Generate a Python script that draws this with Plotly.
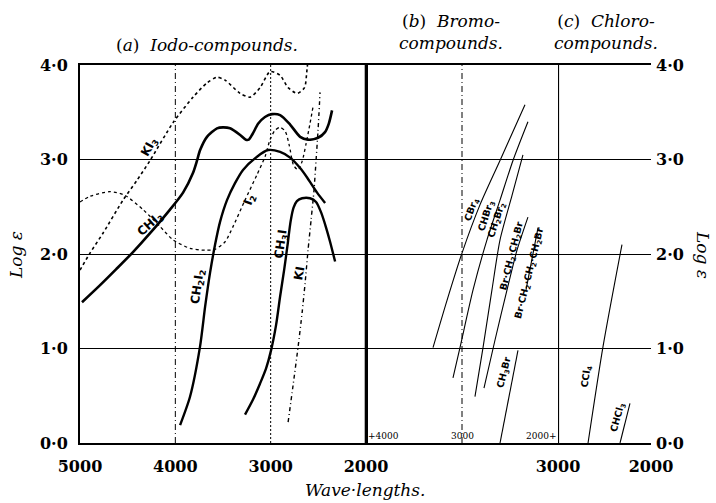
import plotly.graph_objects as go

# ---------------- Panel (a) Iodo-compounds (wavelength in Å, log epsilon) -------------
ki3_wl = [5000, 4895, 4759, 4549, 4402, 4265, 4024, 3814, 3668, 3563, 3478, 3321, 3216,
          3111, 3006, 2901, 2817, 2723, 2645, 2622, 2614]
ki3_le = [1.83, 2.01, 2.22, 2.57, 2.78, 2.99, 3.39, 3.66, 3.81, 3.87, 3.84, 3.70, 3.66,
          3.76, 3.93, 3.89, 3.76, 3.70, 3.76, 3.92, 4.00]

i2_wl = [5000, 4895, 4685, 4528, 4339, 4160, 4024, 3846, 3688, 3583, 3478, 3395, 3269,
         3143, 3059, 3006, 2954, 2901, 2848, 2805, 2760, 2712, 2670, 2630, 2597, 2555]
i2_le = [2.55, 2.61, 2.66, 2.62, 2.47, 2.29, 2.15, 2.06, 2.04, 2.05, 2.13, 2.29, 2.57,
         2.84, 3.03, 3.21, 3.31, 3.34, 3.30, 3.15, 2.94, 2.89, 2.98, 3.16, 3.33, 3.56]

chi3_wl = [4979, 4800, 4620, 4444, 4265, 4056, 3919, 3814, 3772, 3740, 3668, 3563, 3500,
           3426, 3320, 3260, 3230, 3190, 3130, 3060, 2985, 2901, 2796, 2691, 2608, 2503,
           2430, 2390, 2356]
chi3_le = [1.49, 1.66, 1.84, 2.02, 2.22, 2.47, 2.65, 2.86, 2.99, 3.10, 3.24, 3.33, 3.34,
           3.33, 3.26, 3.21, 3.21, 3.27, 3.38, 3.45, 3.48, 3.47, 3.37, 3.24, 3.21, 3.23,
           3.29, 3.38, 3.52]

ch2i2_wl = [3950, 3846, 3741, 3688, 3636, 3583, 3531, 3458, 3374, 3290, 3143, 3027, 2901,
            2796, 2691, 2618, 2513, 2429]
ch2i2_le = [0.19, 0.49, 1.02, 1.44, 1.80, 2.10, 2.34, 2.57, 2.75, 2.89, 3.03, 3.10, 3.08,
            3.02, 2.91, 2.81, 2.65, 2.54]

ch3i_wl = [3269, 3185, 3111, 3048, 2996, 2943, 2901, 2859, 2825, 2790, 2760, 2725, 2670,
           2587, 2524, 2471, 2419, 2377, 2324]
ch3i_le = [0.30, 0.46, 0.63, 0.79, 0.98, 1.25, 1.55, 1.83, 2.08, 2.35, 2.49, 2.56, 2.59,
           2.59, 2.55, 2.44, 2.28, 2.13, 1.92]

ki_wl = [2817, 2765, 2712, 2670, 2639, 2608, 2576, 2545, 2524, 2503, 2482]
ki_le = [0.22, 0.61, 1.02, 1.38, 1.69, 2.04, 2.36, 2.68, 2.99, 3.31, 3.71]

# ---------------- Panel (b) Bromo-compounds ----------------------------------------------
cbr4_wl = [3302, 3156, 3000, 2813, 2604, 2344]
cbr4_le = [1.01, 1.51, 2.01, 2.52, 2.99, 3.58]

chbr3_wl = [3094, 3021, 2885, 2740, 2604, 2469, 2313]
chbr3_le = [0.69, 1.01, 1.62, 2.15, 2.57, 2.99, 3.40]

ch2br2_wl = [2865, 2781, 2688, 2604, 2479, 2365]
ch2br2_le = [0.49, 1.01, 1.62, 2.15, 2.62, 3.05]

brc2br_wl = [2771, 2656, 2531, 2427, 2313]
brc2br_le = [0.58, 1.09, 1.62, 2.04, 2.39]

brc3br_wl = [2333, 2208]
brc3br_le = [1.62, 2.28]

ch3br_wl = [2604, 2417]
ch3br_le = [0.00, 0.98]

# ---------------- Panel (c) Chloro-compounds ---------------------------------------------
ccl4_wl = [2677, 2516, 2312]
ccl4_le = [0.00, 1.02, 2.10]

chcl3_wl = [2333, 2226]
chcl3_le = [0.00, 0.42]

# ---------------- Axis ticks ---------------------------------------------------------------
y_ticks = [0, 1, 2, 3, 4]
y_ticktext = ["0·0", "1·0", "2·0", "3·0", "4·0"]
xa_ticks = [5000, 4000, 3000, 2000]
xc_ticks = [3000, 2000]
xb_inner_ticks = [4000, 3000, 2000]

SERIF = "DejaVu Serif"
SANS = "DejaVu Sans"

fig = go.Figure()


def add_line(x, y, xa, width, dash="solid", shape="spline"):
    fig.add_trace(go.Scatter(
        x=x, y=y, xaxis=xa, yaxis="y", mode="lines",
        line=dict(color="black", width=width, dash=dash, shape=shape, smoothing=0.7),
        showlegend=False, hoverinfo="skip"))


# panel a
add_line(ki3_wl, ki3_le, "x", 1.6, "dot")
add_line(i2_wl, i2_le, "x", 1.3, "dot")
add_line(chi3_wl, chi3_le, "x", 2.6)
add_line(ch2i2_wl, ch2i2_le, "x", 2.4)
add_line(ch3i_wl, ch3i_le, "x", 2.4)
add_line(ki_wl, ki_le, "x", 1.4, "4px,3px,1px,3px")
# panel b
for wl, le in [(cbr4_wl, cbr4_le), (chbr3_wl, chbr3_le), (ch2br2_wl, ch2br2_le),
               (brc2br_wl, brc2br_le), (brc3br_wl, brc3br_le), (ch3br_wl, ch3br_le)]:
    add_line(wl, le, "x2", 1.1)
# panel c
add_line(ccl4_wl, ccl4_le, "x3", 1.1)
add_line(chcl3_wl, chcl3_le, "x3", 1.1)
# invisible copy so the right-hand axis is drawn
fig.add_trace(go.Scatter(x=ccl4_wl, y=ccl4_le, xaxis="x3", yaxis="y2", mode="lines",
                         line=dict(color="rgba(0,0,0,0)"), showlegend=False, hoverinfo="skip"))

W_A, W_B, W_C = 286, 192, 93
TOT = W_A + W_B + W_C
d1 = W_A / TOT
d2 = (W_A + W_B) / TOT

tickfont = dict(family=SERIF, size=16, color="black", weight="bold")

fig.update_layout(
    width=716, height=503,
    margin=dict(l=80, r=65, t=65, b=60, autoexpand=False),
    paper_bgcolor="white", plot_bgcolor="white",
    showlegend=False,
    xaxis=dict(domain=[0, d1], range=[5000, 2000], tickvals=xa_ticks,
               ticktext=[str(v) for v in xa_ticks], showgrid=False, zeroline=False,
               showline=True, linecolor="black", linewidth=2, mirror=True, ticks="",
               tickfont=tickfont, ticklabelstandoff=8, anchor="y"),
    xaxis2=dict(domain=[d1, d2], range=[4000, 2000], showticklabels=False, showgrid=False,
                zeroline=False, showline=True, linecolor="black", linewidth=2, mirror=True,
                ticks="", anchor="y"),
    xaxis3=dict(domain=[d2, 1], range=[3000, 2000], tickvals=xc_ticks,
                ticktext=[str(v) for v in xc_ticks], showgrid=False, zeroline=False,
                showline=True, linecolor="black", linewidth=2, mirror=True, ticks="",
                tickfont=tickfont, ticklabelstandoff=8, anchor="y"),
    yaxis=dict(range=[0, 4], tickvals=y_ticks, ticktext=y_ticktext, showgrid=True,
               gridcolor="black", gridwidth=1, zeroline=False, showline=True,
               linecolor="black", linewidth=2, mirror=True, ticks="", tickfont=tickfont,
               ticklabelstandoff=7, anchor="x"),
    yaxis2=dict(range=[0, 4], tickvals=y_ticks, ticktext=y_ticktext, showgrid=False,
                zeroline=False, showline=False, ticks="", tickfont=tickfont,
                ticklabelstandoff=4, overlaying="y", side="right", anchor="x3"),
)

# vertical reference lines
fig.add_shape(type="line", xref="x", yref="y", x0=4000, x1=4000, y0=0, y1=4,
              line=dict(color="black", width=1, dash="6px,3px,1px,3px"))
fig.add_shape(type="line", xref="x", yref="y", x0=3000, x1=3000, y0=0, y1=4,
              line=dict(color="black", width=1, dash="2px,2px"))
fig.add_shape(type="line", xref="x2", yref="y", x0=3000, x1=3000, y0=0, y1=4,
              line=dict(color="black", width=1, dash="6px,3px,1px,3px"))
# thicker panel boundaries
fig.add_shape(type="line", xref="x", yref="y", x0=2000, x1=2000, y0=0, y1=4,
              line=dict(color="black", width=2.6))
fig.add_shape(type="line", xref="x3", yref="y", x0=3000, x1=3000, y0=0, y1=4,
              line=dict(color="black", width=2.2))

ann = []


def paper_text(px, py, text, angle=0, size=17):
    ann.append(dict(x=(px - 80) / TOT, y=(443 - py) / 378, xref="paper", yref="paper",
                    xanchor="center", yanchor="middle", text=text, textangle=angle,
                    showarrow=False, font=dict(family=SERIF, size=size, color="black")))


# headings and axis titles
paper_text(207, 45, "(<i>a</i>)  <i>Iodo-compounds.</i>")
paper_text(451, 32, "(<i>b</i>)  <i>Bromo-</i><br><i>compounds.</i>")
paper_text(606, 32, "(<i>c</i>)  <i>Chloro-</i><br><i>compounds.</i>")
paper_text(365, 490, "<i>Wave·lengths.</i>")
paper_text(16, 255, "<i>Log ε</i>", angle=-90)
paper_text(703, 255, "<i>Log ε</i>", angle=90)

# inner wavelength scale of panel (b)
for v, anchor in zip(xb_inner_ticks, ["left", "center", "right"]):
    txt = ("+" + str(v)) if anchor == "left" else (str(v) + "+" if anchor == "right" else str(v))
    ann.append(dict(x=v, y=0.07, xref="x2", yref="y", xanchor=anchor, yanchor="middle",
                    text=txt, showarrow=False, font=dict(family=SERIF, size=9, color="black")))

# curve labels
lab_font = dict(family=SANS, size=12, color="black", weight="bold")
lab_small = dict(family=SANS, size=9.5, color="black", weight="bold")
labels = [
    ("x", 4265, 3.13, "KI<sub>3</sub>", -60, lab_font),
    ("x", 4265, 2.31, "CHI<sub>3</sub>", -42, lab_font),
    ("x", 3216, 2.57, "I<sub>2</sub>", -70, lab_font),
    ("x", 3760, 1.65, "CH<sub>2</sub>I<sub>2</sub>", -82, lab_font),
    ("x", 2890, 2.10, "CH<sub>3</sub>I", -82, lab_font),
    ("x", 2700, 1.80, "KI", -80, lab_font),
    ("x2", 2896, 2.47, "CBr<sub>4</sub>", -70, lab_small),
    ("x2", 2745, 2.41, "CHBr<sub>3</sub>", -72, lab_small),
    ("x2", 2630, 2.36, "CH<sub>2</sub>Br<sub>2</sub>", -72, lab_small),
    ("x2", 2475, 1.98, "Br·CH<sub>2</sub>·CH<sub>2</sub>Br", -76, lab_small),
    ("x2", 2290, 1.80, "Br·CH<sub>2</sub>·CH<sub>2</sub>·CH<sub>2</sub>Br", -76, lab_small),
    ("x2", 2560, 0.75, "CH<sub>3</sub>Br", -76, lab_small),
    ("x3", 2690, 0.70, "CCl<sub>4</sub>", -82, lab_small),
    ("x3", 2355, 0.27, "CHCl<sub>3</sub>", -75, lab_small),
]
for xr, x, y, t, ang, f in labels:
    ann.append(dict(x=x, y=y, xref=xr, yref="y", text=t, textangle=ang,
                    showarrow=False, font=f))

fig.update_layout(annotations=ann)
fig.write_html("out.html", config={"displayModeBar": False},
               post_script="document.body.style.margin='0';")
